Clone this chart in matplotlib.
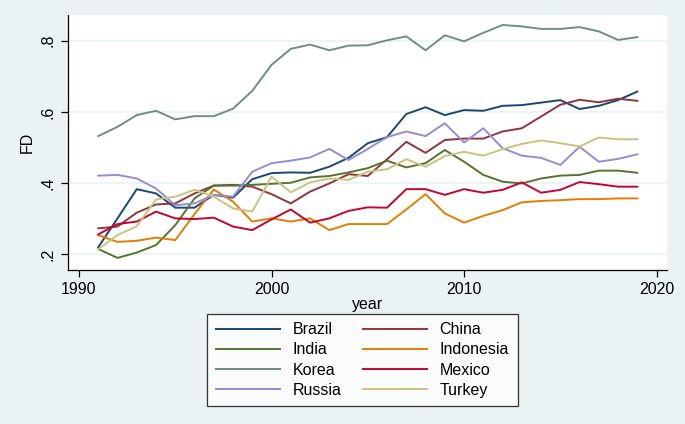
import matplotlib
matplotlib.use("Agg")
import matplotlib.pyplot as plt

years = list(range(1991, 2020))

brazil = [0.220, 0.301, 0.383, 0.371, 0.331, 0.331, 0.367, 0.359, 0.411, 0.428,
          0.430, 0.429, 0.446, 0.471, 0.512, 0.529, 0.594, 0.613, 0.591, 0.605,
          0.603, 0.617, 0.619, 0.626, 0.633, 0.608, 0.617, 0.633, 0.657]
china = [0.273, 0.278, 0.317, 0.340, 0.343, 0.371, 0.393, 0.395, 0.390, 0.369,
         0.343, 0.376, 0.399, 0.425, 0.420, 0.467, 0.516, 0.485, 0.521, 0.525,
         0.525, 0.545, 0.554, 0.587, 0.620, 0.634, 0.627, 0.637, 0.631]
india = [0.215, 0.190, 0.205, 0.226, 0.282, 0.357, 0.393, 0.393, 0.395, 0.398,
         0.401, 0.416, 0.420, 0.430, 0.442, 0.463, 0.444, 0.456, 0.493, 0.460,
         0.423, 0.404, 0.399, 0.413, 0.421, 0.423, 0.435, 0.435, 0.429]
indonesia = [0.254, 0.235, 0.238, 0.247, 0.240, 0.313, 0.382, 0.348, 0.292, 0.301,
             0.292, 0.301, 0.268, 0.285, 0.285, 0.285, 0.326, 0.369, 0.315, 0.289,
             0.308, 0.324, 0.346, 0.350, 0.352, 0.355, 0.355, 0.357, 0.357]
korea = [0.532, 0.558, 0.591, 0.603, 0.579, 0.588, 0.588, 0.609, 0.659, 0.732,
         0.777, 0.789, 0.773, 0.786, 0.787, 0.801, 0.812, 0.773, 0.815, 0.798,
         0.822, 0.844, 0.840, 0.833, 0.833, 0.838, 0.826, 0.802, 0.810]
mexico = [0.256, 0.285, 0.292, 0.320, 0.301, 0.299, 0.303, 0.278, 0.268, 0.298,
          0.326, 0.289, 0.301, 0.322, 0.332, 0.331, 0.383, 0.383, 0.367, 0.383,
          0.373, 0.381, 0.402, 0.373, 0.381, 0.403, 0.397, 0.390, 0.390]
russia = [0.421, 0.423, 0.413, 0.385, 0.338, 0.343, 0.367, 0.362, 0.432, 0.456,
          0.463, 0.472, 0.496, 0.465, 0.496, 0.529, 0.545, 0.532, 0.568, 0.514,
          0.554, 0.498, 0.477, 0.471, 0.451, 0.502, 0.460, 0.468, 0.481]
turkey = [0.214, 0.254, 0.279, 0.354, 0.362, 0.381, 0.362, 0.329, 0.320, 0.418,
          0.374, 0.402, 0.413, 0.409, 0.432, 0.439, 0.467, 0.446, 0.476, 0.488,
          0.477, 0.495, 0.510, 0.520, 0.512, 0.503, 0.528, 0.523, 0.523]

series = [
    ("Brazil", brazil, "#1a476f"),
    ("China", china, "#90353b"),
    ("India", india, "#55752f"),
    ("Indonesia", indonesia, "#e37e00"),
    ("Korea", korea, "#6e8e84"),
    ("Mexico", mexico, "#c10534"),
    ("Russia", russia, "#938dd2"),
    ("Turkey", turkey, "#cac27e"),
]

plt.rcParams['font.family'] = ['Liberation Sans', 'DejaVu Sans']
bg = "#eaf2f3"

fig = plt.figure(figsize=(6.85, 4.24), dpi=100, facecolor=bg)
ax = fig.add_axes([0.0993, 0.3632, 0.8744, 0.6014])
ax.set_facecolor("white")

lines = []
for name, vals, col in series:
    ln, = ax.plot(years, vals, color=col, lw=1.4, label=name)
    lines.append(ln)

ax.set_xlim(1989.43, 2020.54)
ax.set_ylim(0.156, 0.872)
ax.set_xticks([1990, 2000, 2010, 2020])
ax.set_yticks([0.2, 0.4, 0.6, 0.8])
ax.set_yticklabels([".2", ".4", ".6", ".8"], rotation=90, va="center")
ax.grid(axis="y", color=bg, lw=1.2)
ax.set_axisbelow(True)

for s in ["top", "right"]:
    ax.spines[s].set_visible(False)
for s in ["left", "bottom"]:
    ax.spines[s].set_linewidth(0.9)
ax.tick_params(labelsize=11.5, length=5, width=0.9, direction="out")
ax.tick_params(axis="y", pad=4)

ax.set_xlabel("year", fontsize=11.5, labelpad=0)
ax.set_ylabel("FD", fontsize=11.5, labelpad=4)

# legend is filled row by row, as in Stata
order = lines[0::2] + lines[1::2]
leg = fig.legend(handles=order, loc="center", bbox_to_anchor=(0.529, 0.151),
                 ncol=2, fontsize=11.5, frameon=True, fancybox=False,
                 handlelength=4.0, columnspacing=1.35, labelspacing=0.32,
                 handletextpad=0.8, borderpad=0.55, borderaxespad=0)
leg.get_frame().set_edgecolor("black")
leg.get_frame().set_linewidth(0.9)
leg.get_frame().set_facecolor("white")

fig.savefig("out.png", dpi=100, facecolor=bg)
